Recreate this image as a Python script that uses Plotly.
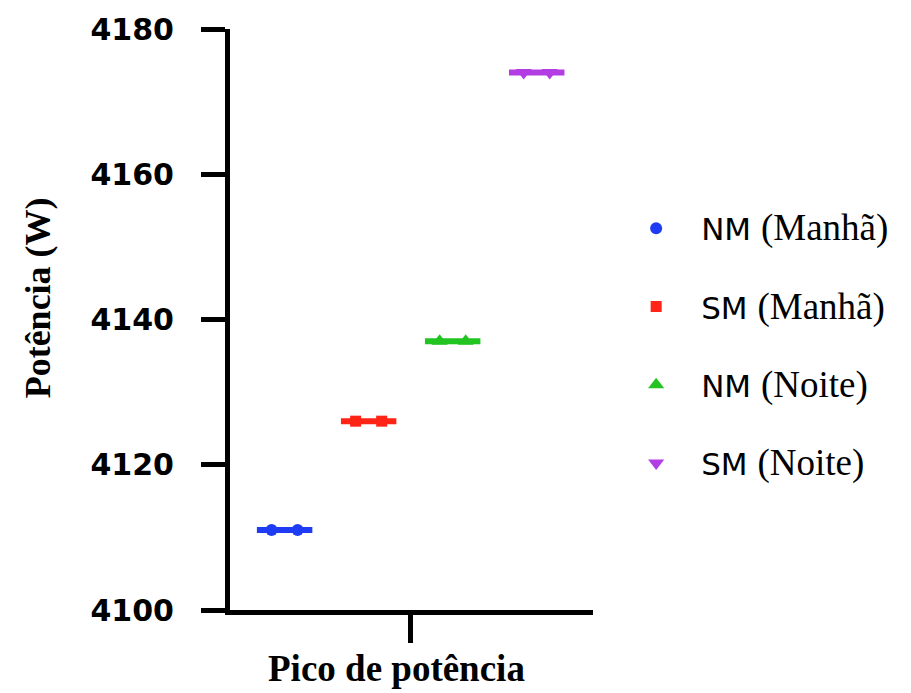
import plotly.graph_objects as go

# ---- data ----
group_codes = ["NM", "SM", "NM", "SM"]
group_periods = ["(Manhã)", "(Manhã)", "(Noite)", "(Noite)"]
group_values = [
    [4111, 4111],
    [4126, 4126],
    [4137, 4137],
    [4174, 4174],
]
y_tick_values = [4100, 4120, 4140, 4160, 4180]
x_category = "Pico de potência"
y_title = "Potência (W)"

# ---- styles ----
colors = ["#1f3cf5", "#ff2416", "#22c422", "#b13de3"]
symbols = ["circle", "square", "triangle-up", "triangle-down"]
marker_sizes = [12, 11, 14, 14]
point_offsets = [-0.155, 0.155]
mean_half_width = 0.33

fig = go.Figure()
n = len(group_values)
for i, vals in enumerate(group_values):
    pos = i - (n - 1) / 2
    mean = sum(vals) / len(vals)
    fig.add_trace(go.Scatter(
        x=[pos - mean_half_width, pos + mean_half_width], y=[mean, mean],
        mode="lines", line=dict(color=colors[i], width=6),
        legendgroup=str(i), showlegend=False, hoverinfo="skip",
    ))
    name = (f"{group_codes[i]} "
            f"<span style=\"font-family:'Liberation Serif';font-size:37px\">{group_periods[i]}</span>")
    fig.add_trace(go.Scatter(
        x=[pos + o for o in point_offsets], y=vals,
        mode="markers", name=name, legendgroup=str(i),
        marker=dict(color=colors[i], symbol=symbols[i], size=marker_sizes[i]),
    ))

fig.add_annotation(
    text=f"<b>{y_title}</b>", textangle=-90,
    xref="paper", yref="paper", x=-0.528, y=0.537,
    xanchor="center", yanchor="middle", showarrow=False,
    font=dict(family="Liberation Serif", size=36, color="black"),
)
fig.add_annotation(
    text=f"<b>{x_category}</b>",
    xref="paper", yref="paper", x=0.46, y=-0.1,
    xanchor="center", yanchor="middle", showarrow=False,
    font=dict(family="Liberation Serif", size=37, color="black"),
)

fig.update_layout(
    width=903, height=685,
    paper_bgcolor="white", plot_bgcolor="white",
    margin=dict(l=222, r=318, t=21, b=83, autoexpand=False),
    showlegend=True,
    legend=dict(
        x=1.05, xanchor="left", y=0.703, yanchor="top",
        font=dict(family="DejaVu Sans", size=31, color="black"),
        traceorder="grouped", tracegroupgap=35, itemwidth=80,
        bgcolor="rgba(0,0,0,0)",
    ),
    xaxis=dict(
        range=[-2.15, 2.17], showgrid=False, zeroline=False,
        showline=True, linecolor="black", linewidth=5,
        tickvals=[0], ticktext=[""], ticks="outside", ticklen=28, tickwidth=5, tickcolor="black",
    ),
    yaxis=dict(
        range=[4100, 4180], showgrid=False, zeroline=False,
        showline=True, linecolor="black", linewidth=5,
        tickvals=y_tick_values, ticks="outside", ticklen=24, tickwidth=5, tickcolor="black",
        tickfont=dict(family="DejaVu Sans", size=30, color="black", weight="bold"),
        ticklabelstandoff=21,
    ),
)

fig.write_html("out.html")
